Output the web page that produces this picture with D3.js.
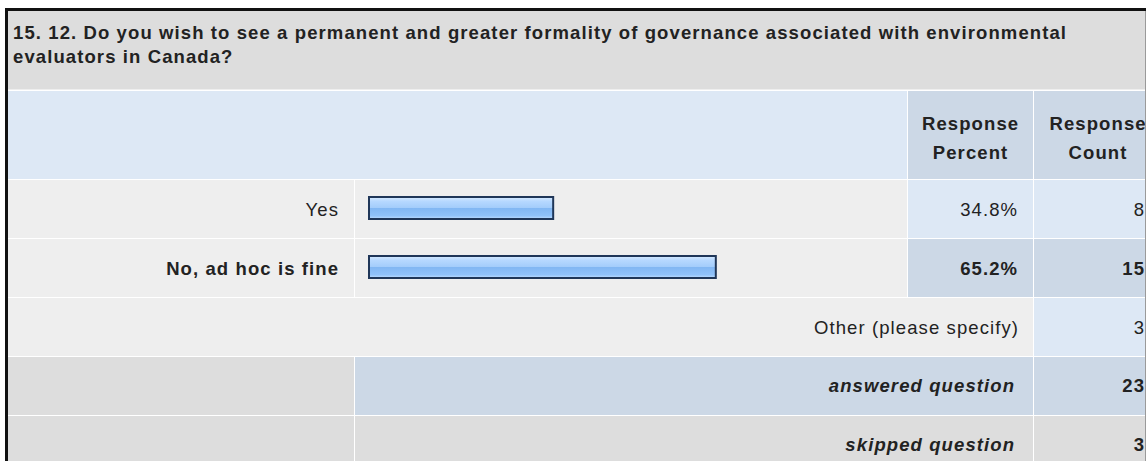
<!DOCTYPE html>
<html>
<head>
<meta charset="utf-8">
<script src="https://cdn.jsdelivr.net/npm/d3@7"></script>
<style>
  html, body { margin: 0; padding: 0; background: #fff; overflow: hidden; }
  svg { display: block; font-family: "Liberation Sans", Arial, sans-serif; }
</style>
</head>
<body>
<svg id="chart"></svg>
<script>
'use strict';
(() => {
// data
const titleLines = [
  '15. 12. Do you wish to see a permanent and greater formality of governance associated with environmental',
  'evaluators in Canada?'
];
const headerPercent = ['Response', 'Percent'];
const headerCount = ['Response', 'Count'];
const categories = ['Yes', 'No, ad hoc is fine'];
const percents = [34.8, 65.2];
const counts = [8, 15];
const otherLabel = 'Other (please specify)';
const otherCount = 3;
const summaryLabels = ['answered question', 'skipped question'];
const summaryCounts = [23, 3];

const W = 1146, H = 461;
const fs = 18.5;
const ls = 1.1;           // letter spacing of the screenshot text
const ink = '#222';
const colEdge = [8, 354, 907, 1033, 1162];
const rowEdge = [90, 179, 238, 297, 356, 415, 480];

const svg = d3.select('#chart').attr('width', W).attr('height', H);

const defs = svg.append('defs');
const grad = defs.append('linearGradient')
  .attr('id', 'barfill').attr('x1', 0).attr('y1', 0).attr('x2', 0).attr('y2', 1);
[[0, '#d6eaff'], [0.2, '#b6d8ff'], [0.48, '#a4cdfb'], [0.52, '#82b7f3'],
 [0.85, '#90c2f9'], [1, '#c0deff']].forEach(s => {
  grad.append('stop').attr('offset', s[0]).attr('stop-color', s[1]);
});

// cell background helper: c0..c1 column span, r row index
function cell(c0, c1, r, fill) {
  const x0 = colEdge[c0] + (c0 ? 1 : 0);
  svg.append('rect')
    .attr('x', x0).attr('y', rowEdge[r] + 1)
    .attr('width', colEdge[c1] - x0)
    .attr('height', rowEdge[r + 1] - rowEdge[r] - 1)
    .attr('fill', fill);
}

function label(x, y, str, opts) {
  opts = opts || {};
  const anchor = opts.anchor || 'end';
  const dx = anchor == 'end' ? ls : anchor == 'middle' ? ls / 2 : 0;
  return svg.append('text')
    .attr('x', x + dx).attr('y', y)
    .attr('text-anchor', anchor)
    .attr('font-size', fs)
    .attr('letter-spacing', ls)
    .attr('font-weight', opts.bold ? 'bold' : 'normal')
    .attr('font-style', opts.italic ? 'italic' : 'normal')
    .attr('fill', ink)
    .text(str);
}

// title band
svg.append('rect').attr('x', 8).attr('y', 11).attr('width', W).attr('height', 78.5).attr('fill', '#dddddd');
titleLines.forEach((t, i) => label(13, 38.5 + i * 24, t, { anchor: 'start', bold: true }));

// header row
cell(0, 2, 0, '#dde8f5');
cell(2, 3, 0, '#ccd8e6');
cell(3, 4, 0, '#ccd8e6');
const pc = (colEdge[2] + colEdge[3]) / 2, cc = (colEdge[3] + colEdge[4]) / 2;
headerPercent.forEach((t, i) => label(pc, 130 + i * 29, t, { anchor: 'middle', bold: true }));
headerCount.forEach((t, i) => label(cc, 130 + i * 29, t, { anchor: 'middle', bold: true }));

// answer rows
const y = d3.scaleBand().domain(categories).range([rowEdge[1], rowEdge[3]]);
const x = d3.scaleLinear().domain([0, 100]).range([368, 903]);

categories.forEach((c, i) => {
  const r = i + 1;
  const strong = percents[i] === d3.max(percents);
  cell(0, 1, r, '#eeeeee');
  cell(1, 2, r, '#eeeeee');
  cell(2, 3, r, strong ? '#ccd8e6' : '#dde8f5');
  cell(3, 4, r, strong ? '#ccd8e6' : '#dde8f5');
});

svg.append('g').selectAll('rect.bar')
  .data(categories)
  .join('rect')
    .attr('class', 'bar')
    .attr('x', x(0) + 1)
    .attr('y', d => y(d) + 18)
    .attr('width', (d, i) => x(percents[i]) - x(0) - 2)
    .attr('height', 22)
    .attr('fill', 'url(#barfill)')
    .attr('stroke', '#1f3658')
    .attr('stroke-width', 2);

categories.forEach((c, i) => {
  const strong = percents[i] === d3.max(percents);
  const base = y(c) + y.bandwidth() / 2 + 7;
  label(338, base, c, { bold: strong });
  label(1017, base, d3.format('.1f')(percents[i]) + '%', { bold: strong });
  label(1144, base, counts[i], { bold: strong });
});

// other row
cell(0, 3, 3, '#eeeeee');
cell(3, 4, 3, '#dde8f5');
label(1018, 333.5, otherLabel);
label(1144, 333.5, otherCount);

// summary rows
summaryLabels.forEach((t, i) => {
  const r = 4 + i;
  cell(0, 1, r, '#dddddd');
  cell(1, 3, r, i ? '#dddddd' : '#ccd8e6');
  cell(3, 4, r, i ? '#dddddd' : '#ccd8e6');
  const base = rowEdge[r] + 36;
  label(1014, base, t, { bold: true, italic: true });
  label(1144, base, summaryCounts[i], { bold: true });
});

// outer frame
svg.append('path')
  .attr('d', `M6.5,${H}V9.5H${W}`)
  .attr('fill', 'none').attr('stroke', '#111').attr('stroke-width', 3);
svg.append('line')
  .attr('x1', W - 0.5).attr('x2', W - 0.5).attr('y1', 11).attr('y2', H)
  .attr('stroke', '#9a9a9a').attr('stroke-width', 1);
})();
</script>
</body>
</html>
